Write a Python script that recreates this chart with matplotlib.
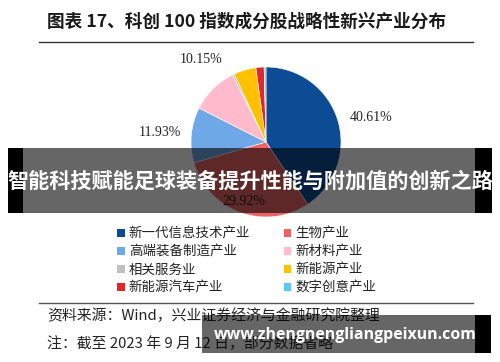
import matplotlib
matplotlib.use("Agg")
import matplotlib.pyplot as plt
import numpy as np
from matplotlib.patches import Rectangle, Patch
from matplotlib.lines import Line2D

plt.rcParams['font.family'] = ['Noto Sans CJK SC', 'DejaVu Sans']

# ---------------- data ----------------
categories = ["新一代信息技术产业", "生物产业", "高端装备制造产业", "新材料产业",
              "相关服务业", "新能源产业", "新能源汽车产业", "数字创意产业"]
values = [40.61, 29.92, 11.93, 10.15, 0.44, 4.80, 1.75, 0.40]
colors = ["#0B4C94", "#EE6464", "#6FA8E6", "#FFBACB",
          "#BFBFBF", "#FFC000", "#E3262A", "#5BC8F5"]
shown_labels = ["40.61%", "29.92%", "11.93%", "10.15%", "", "", "", ""]
label_dist = [1.44, 0.85, 1.42, 1.40, 0, 0, 0, 0]
label_angle_shift = [-4, 0, 0, -7, 0, 0, 0, 0]

title = "图表 17、科创 100 指数成分股战略性新兴产业分布"
source = "资料来源：Wind，兴业证券经济与金融研究院整理"
note = "注：截至 2023 年 9 月 12 日，部分数据省略"
banner = "智能科技赋能足球装备提升性能与附加值的创新之路"
site = "www.zhengnengliangpeixun.com"

W, H = 500, 362
fig = plt.figure(figsize=(W / 100, H / 100), dpi=100)
fig.patch.set_facecolor("white")

def fx(x):
    return x / W

def fy(y):
    return 1 - y / H

# ---------------- title ----------------
fig.text(fx(47), fy(22), title, fontsize=12.7, fontweight="bold",
         ha="left", va="center", color="#1a1a1a")
fig.add_artist(Line2D([fx(39), fx(473)], [fy(41.5), fy(41.5)],
                      color="#333333", lw=1.0))

# ---------------- pie ----------------
cx, cy, r = 266, 142, 75
ax = fig.add_axes([fx(cx - r), fy(cy + r), 2 * r / W, 2 * r / H])
wedges, _ = ax.pie(values, colors=colors, startangle=90, counterclock=False,
                   radius=1.0, wedgeprops=dict(edgecolor="white", linewidth=0.4))
ax.set_xlim(-1, 1)
ax.set_ylim(-1, 1)
ax.set_aspect("equal")
ax.axis("off")

for w, lab, d, sh in zip(wedges, shown_labels, label_dist, label_angle_shift):
    if not lab:
        continue
    ang = np.deg2rad((w.theta1 + w.theta2) / 2 + sh)
    ax.text(d * np.cos(ang), d * np.sin(ang), lab, ha="center", va="center",
            fontsize=10, family=["Liberation Serif"], color="#222222",
            clip_on=False)

# ---------------- legend ----------------
handles = [Patch(facecolor=c, edgecolor="none") for c in colors]
# row-major order in two columns -> reorder for matplotlib column-major fill
order = [0, 2, 4, 6, 1, 3, 5, 7]
leg = fig.legend([handles[i] for i in order], [categories[i] for i in order],
                 ncol=2, loc="upper left",
                 bbox_to_anchor=(fx(108), fy(217)),
                 frameon=False, fontsize=9.7, handlelength=0.55,
                 handleheight=0.55, handletextpad=0.3, labelspacing=0.3,
                 columnspacing=2.5, borderpad=0.2)
for t in leg.get_texts():
    t.set_color("#222222")

# ---------------- footer ----------------
fig.add_artist(Line2D([fx(39), fx(473)], [fy(303), fy(303)],
                      color="#555555", lw=1.0))
fig.text(fx(47), fy(316), source, fontsize=10.7, ha="left", va="center",
         color="#222222")
fig.text(fx(47), fy(344), note, fontsize=10.7, ha="left", va="center",
         color="#222222")

# ---------------- overlays ----------------
def rect(x0, y0, x1, y1, color, alpha=1.0):
    fig.add_artist(Rectangle((fx(x0), fy(y1)), fx(x1) - fx(x0), fy(y0) - fy(y1),
                             transform=fig.transFigure, facecolor=color,
                             edgecolor="none", alpha=alpha, zorder=10))

rect(8, 148, 23, 213, "black")
rect(475, 148, 492, 213, "black")
rect(23, 148, 475, 213, "black", 0.6)
fig.text(fx(250), fy(181), banner, fontsize=15.2, fontweight="bold",
         ha="center", va="center", color="white", zorder=11)

rect(202, 315, 475, 353, "black", 0.6)
rect(475, 315, 491, 353, "black")
fig.text(fx(345), fy(335), site, fontsize=11.4, fontweight="bold",
         family=["Open Sans", "DejaVu Sans"],
         ha="center", va="center", color="white", zorder=11)

fig.savefig("out.png", dpi=100)
